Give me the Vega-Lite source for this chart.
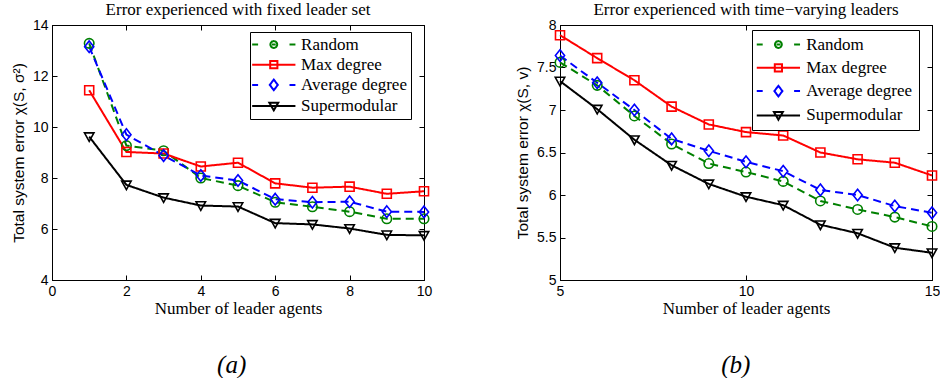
{
  "$schema": "https://vega.github.io/schema/vega-lite/v6.json",
  "background": "white",
  "autosize": {"type": "pad"},
  "padding": {"left": 10, "top": 0, "right": 0, "bottom": 0},
  "datasets": {
    "a": [
      {"n": 1, "method": "Random", "err": 13.28}, {"n": 2, "method": "Random", "err": 9.27}, {"n": 3, "method": "Random", "err": 9.07}, {"n": 4, "method": "Random", "err": 8.0}, {"n": 5, "method": "Random", "err": 7.7}, {"n": 6, "method": "Random", "err": 7.05}, {"n": 7, "method": "Random", "err": 6.87}, {"n": 8, "method": "Random", "err": 6.68}, {"n": 9, "method": "Random", "err": 6.4}, {"n": 10, "method": "Random", "err": 6.4},
      {"n": 1, "method": "Max degree", "err": 11.44}, {"n": 2, "method": "Max degree", "err": 9.02}, {"n": 3, "method": "Max degree", "err": 8.96}, {"n": 4, "method": "Max degree", "err": 8.45}, {"n": 5, "method": "Max degree", "err": 8.6}, {"n": 6, "method": "Max degree", "err": 7.79}, {"n": 7, "method": "Max degree", "err": 7.62}, {"n": 8, "method": "Max degree", "err": 7.66}, {"n": 9, "method": "Max degree", "err": 7.38}, {"n": 10, "method": "Max degree", "err": 7.48},
      {"n": 1, "method": "Average degree", "err": 13.15}, {"n": 2, "method": "Average degree", "err": 9.7}, {"n": 3, "method": "Average degree", "err": 8.88}, {"n": 4, "method": "Average degree", "err": 8.1}, {"n": 5, "method": "Average degree", "err": 7.9}, {"n": 6, "method": "Average degree", "err": 7.17}, {"n": 7, "method": "Average degree", "err": 7.05}, {"n": 8, "method": "Average degree", "err": 7.07}, {"n": 9, "method": "Average degree", "err": 6.68}, {"n": 10, "method": "Average degree", "err": 6.67},
      {"n": 1, "method": "Supermodular", "err": 9.62}, {"n": 2, "method": "Supermodular", "err": 7.73}, {"n": 3, "method": "Supermodular", "err": 7.23}, {"n": 4, "method": "Supermodular", "err": 6.92}, {"n": 5, "method": "Supermodular", "err": 6.88}, {"n": 6, "method": "Supermodular", "err": 6.23}, {"n": 7, "method": "Supermodular", "err": 6.18}, {"n": 8, "method": "Supermodular", "err": 6.02}, {"n": 9, "method": "Supermodular", "err": 5.77}, {"n": 10, "method": "Supermodular", "err": 5.75}
    ],
    "b": [
      {"n": 5, "method": "Random", "err": 7.56}, {"n": 6, "method": "Random", "err": 7.29}, {"n": 7, "method": "Random", "err": 6.93}, {"n": 8, "method": "Random", "err": 6.6}, {"n": 9, "method": "Random", "err": 6.37}, {"n": 10, "method": "Random", "err": 6.27}, {"n": 11, "method": "Random", "err": 6.16}, {"n": 12, "method": "Random", "err": 5.93}, {"n": 13, "method": "Random", "err": 5.83}, {"n": 14, "method": "Random", "err": 5.74}, {"n": 15, "method": "Random", "err": 5.63},
      {"n": 5, "method": "Max degree", "err": 7.88}, {"n": 6, "method": "Max degree", "err": 7.61}, {"n": 7, "method": "Max degree", "err": 7.35}, {"n": 8, "method": "Max degree", "err": 7.04}, {"n": 9, "method": "Max degree", "err": 6.83}, {"n": 10, "method": "Max degree", "err": 6.74}, {"n": 11, "method": "Max degree", "err": 6.7}, {"n": 12, "method": "Max degree", "err": 6.5}, {"n": 13, "method": "Max degree", "err": 6.42}, {"n": 14, "method": "Max degree", "err": 6.38}, {"n": 15, "method": "Max degree", "err": 6.23},
      {"n": 5, "method": "Average degree", "err": 7.64}, {"n": 6, "method": "Average degree", "err": 7.32}, {"n": 7, "method": "Average degree", "err": 7.0}, {"n": 8, "method": "Average degree", "err": 6.66}, {"n": 9, "method": "Average degree", "err": 6.52}, {"n": 10, "method": "Average degree", "err": 6.39}, {"n": 11, "method": "Average degree", "err": 6.28}, {"n": 12, "method": "Average degree", "err": 6.06}, {"n": 13, "method": "Average degree", "err": 6.0}, {"n": 14, "method": "Average degree", "err": 5.87}, {"n": 15, "method": "Average degree", "err": 5.79},
      {"n": 5, "method": "Supermodular", "err": 7.34}, {"n": 6, "method": "Supermodular", "err": 7.01}, {"n": 7, "method": "Supermodular", "err": 6.65}, {"n": 8, "method": "Supermodular", "err": 6.35}, {"n": 9, "method": "Supermodular", "err": 6.13}, {"n": 10, "method": "Supermodular", "err": 5.98}, {"n": 11, "method": "Supermodular", "err": 5.88}, {"n": 12, "method": "Supermodular", "err": 5.65}, {"n": 13, "method": "Supermodular", "err": 5.55}, {"n": 14, "method": "Supermodular", "err": 5.38}, {"n": 15, "method": "Supermodular", "err": 5.32}
    ]
  },
  "spacing": 82,
  "resolve": {
    "scale": {"x": "independent", "y": "independent", "color": "independent", "strokeDash": "independent", "shape": "independent"},
    "legend": {"color": "independent"}
  },
  "hconcat": [
    {
      "title": {"text": "(a)", "orient": "bottom", "font": "Liberation Serif", "fontStyle": "italic", "fontSize": 25, "fontWeight": "normal", "offset": 36, "anchor": "middle", "dx": 10},
      "resolve": {"scale": {"color": "independent"}, "legend": {"color": "independent"}},
      "vconcat": [
        {
          "width": 372,
          "height": 255,
          "title": {"text": "Error experienced with fixed leader set", "frame": "group", "offset": -1},
          "data": {"name": "a"},
          "resolve": {"axis": {"x": "independent", "y": "independent"}},
          "layer": [
            {
              "mark": {"type": "line", "strokeWidth": 2},
              "encoding": {
                "x": {"field": "n", "type": "quantitative", "scale": {"domain": [0, 10]},
                      "axis": {"orient": "bottom", "values": [0, 2, 4, 6, 8, 10], "title": "Number of leader agents", "titleFont": "Liberation Serif", "titleFontSize": 17, "titleFontWeight": "normal", "titlePadding": 2}},
                "y": {"field": "err", "type": "quantitative", "scale": {"domain": [4, 14]},
                      "axis": {"orient": "left", "values": [4, 6, 8, 10, 12, 14], "title": "Total system error χ(S, σ²)", "titleFont": "Liberation Sans", "titleFontSize": 15.5, "titleFontWeight": "normal", "titlePadding": 6}},
                "color": {"field": "method", "type": "nominal",
                          "scale": {"domain": ["Random", "Max degree", "Average degree", "Supermodular"], "range": ["#008000", "#ff0000", "#0000ff", "#000000"]},
                          "legend": {"title": null, "orient": "none", "direction": "vertical", "legendX": 198, "legendY": 7, "padding": 4, "strokeColor": "black", "fillColor": "white",
                                     "labelFont": "Liberation Serif", "labelFontSize": 17, "labelColor": "black", "symbolSize": 72, "symbolStrokeWidth": 2, "symbolOffset": 11.3, "labelOffset": 18.8, "rowPadding": 2.2,
                                     "encode": {"symbols": {"update": {"fill": {"value": "transparent"}, "strokeDash": {"value": [1, 0]},
                                       "shape": {"signal": "datum.value === 'Random' ? 'M-5.1,0H-3.7M3.7,0H5.1M-0.45,0H0.45M0.8,0C0.8,0.442,0.442,0.8,0,0.8C-0.442,0.8,-0.8,0.442,-0.8,0C-0.8,-0.442,-0.442,-0.8,0,-0.8C0.442,-0.8,0.8,-0.442,0.8,0Z' : datum.value === 'Max degree' ? 'M-5.1,0H5.1M-0.85,-0.85H0.85V0.85H-0.85Z' : datum.value === 'Average degree' ? 'M-5.1,0H-3.7M3.7,0H5.1M0,-1.25L0.95,0L0,1.25L-0.95,0Z' : 'M-5.1,0H5.1M-1.05,-0.8H1.05L0,1Z'"}}}}}},
                "strokeDash": {"field": "method", "type": "nominal",
                               "scale": {"domain": ["Random", "Max degree", "Average degree", "Supermodular"], "range": [[8, 5], [1, 0], [8, 5], [1, 0]]}, "legend": null}
              }
            },
            {
              "mark": {"type": "point", "filled": false, "strokeWidth": 1.6, "size": 90, "opacity": 1},
              "encoding": {
                "x": {"field": "n", "type": "quantitative", "axis": {"orient": "top", "values": [0, 2, 4, 6, 8, 10], "labels": false, "title": null}},
                "y": {"field": "err", "type": "quantitative", "axis": {"orient": "right", "values": [4, 6, 8, 10, 12, 14], "labels": false, "title": null}},
                "color": {"field": "method", "type": "nominal"},
                "shape": {"field": "method", "type": "nominal",
                          "scale": {"domain": ["Random", "Max degree", "Average degree", "Supermodular"], "range": ["circle", "M-0.95,-0.95H0.95V0.95H-0.95Z", "M0,-1.22L0.97,0L0,1.22L-0.97,0Z", "M-1,-0.8H1L0,1Z"]}, "legend": null}
              }
            }
          ]
        }
      ]
    },
    {
      "title": {"text": "(b)", "orient": "bottom", "font": "Liberation Serif", "fontStyle": "italic", "fontSize": 25, "fontWeight": "normal", "offset": 36, "anchor": "middle", "dx": 8},
      "resolve": {"scale": {"color": "independent"}, "legend": {"color": "independent"}},
      "vconcat": [
        {
          "width": 372,
          "height": 255,
          "title": {"text": "Error experienced with time−varying leaders", "frame": "group", "offset": -1},
          "data": {"name": "b"},
          "resolve": {"axis": {"x": "independent", "y": "independent"}},
          "layer": [
            {
              "mark": {"type": "line", "strokeWidth": 2},
              "encoding": {
                "x": {"field": "n", "type": "quantitative", "scale": {"domain": [5, 15]},
                      "axis": {"orient": "bottom", "values": [5, 10, 15], "title": "Number of leader agents", "titleFont": "Liberation Serif", "titleFontSize": 17, "titleFontWeight": "normal", "titlePadding": 2}},
                "y": {"field": "err", "type": "quantitative", "scale": {"domain": [5, 8]},
                      "axis": {"orient": "left", "values": [5, 5.5, 6, 6.5, 7, 7.5, 8], "format": "~g", "title": "Total system error χ(S, v)", "titleFont": "Liberation Sans", "titleFontSize": 15.5, "titleFontWeight": "normal", "titlePadding": 6}},
                "color": {"field": "method", "type": "nominal",
                          "scale": {"domain": ["Random", "Max degree", "Average degree", "Supermodular"], "range": ["#008000", "#ff0000", "#0000ff", "#000000"]},
                          "legend": {"title": null, "orient": "none", "direction": "vertical", "legendX": 192, "legendY": 5, "padding": 6, "strokeColor": "black", "fillColor": "white",
                                     "labelFont": "Liberation Serif", "labelFontSize": 17, "labelColor": "black", "symbolSize": 72, "symbolStrokeWidth": 2, "symbolOffset": 11.9, "labelOffset": 19.3, "rowPadding": 5.3,
                                     "encode": {"symbols": {"update": {"fill": {"value": "transparent"}, "strokeDash": {"value": [1, 0]},
                                       "shape": {"signal": "datum.value === 'Random' ? 'M-5.1,0H-3.7M3.7,0H5.1M-0.45,0H0.45M0.8,0C0.8,0.442,0.442,0.8,0,0.8C-0.442,0.8,-0.8,0.442,-0.8,0C-0.8,-0.442,-0.442,-0.8,0,-0.8C0.442,-0.8,0.8,-0.442,0.8,0Z' : datum.value === 'Max degree' ? 'M-5.1,0H5.1M-0.85,-0.85H0.85V0.85H-0.85Z' : datum.value === 'Average degree' ? 'M-5.1,0H-3.7M3.7,0H5.1M0,-1.25L0.95,0L0,1.25L-0.95,0Z' : 'M-5.1,0H5.1M-1.05,-0.8H1.05L0,1Z'"}}}}}},
                "strokeDash": {"field": "method", "type": "nominal",
                               "scale": {"domain": ["Random", "Max degree", "Average degree", "Supermodular"], "range": [[8, 5], [1, 0], [8, 5], [1, 0]]}, "legend": null}
              }
            },
            {
              "mark": {"type": "point", "filled": false, "strokeWidth": 1.6, "size": 90, "opacity": 1},
              "encoding": {
                "x": {"field": "n", "type": "quantitative", "axis": {"orient": "top", "values": [5, 10, 15], "labels": false, "title": null}},
                "y": {"field": "err", "type": "quantitative", "axis": {"orient": "right", "values": [5, 5.5, 6, 6.5, 7, 7.5, 8], "labels": false, "title": null}},
                "color": {"field": "method", "type": "nominal"},
                "shape": {"field": "method", "type": "nominal",
                          "scale": {"domain": ["Random", "Max degree", "Average degree", "Supermodular"], "range": ["circle", "M-0.95,-0.95H0.95V0.95H-0.95Z", "M0,-1.22L0.97,0L0,1.22L-0.97,0Z", "M-1,-0.8H1L0,1Z"]}, "legend": null}
              }
            }
          ]
        }
      ]
    }
  ],
  "config": {
    "view": {"stroke": "black", "strokeWidth": 1},
    "title": {"font": "Liberation Serif", "fontSize": 17, "fontWeight": "normal", "color": "black"},
    "axis": {"grid": false, "domainColor": "black", "domainWidth": 1, "tickColor": "black", "tickWidth": 1, "tickSize": -5,
             "labelFont": "Liberation Sans", "labelFontSize": 14, "labelColor": "black", "labelPadding": 9, "titleColor": "black", "labelFlush": false}
  }
}
